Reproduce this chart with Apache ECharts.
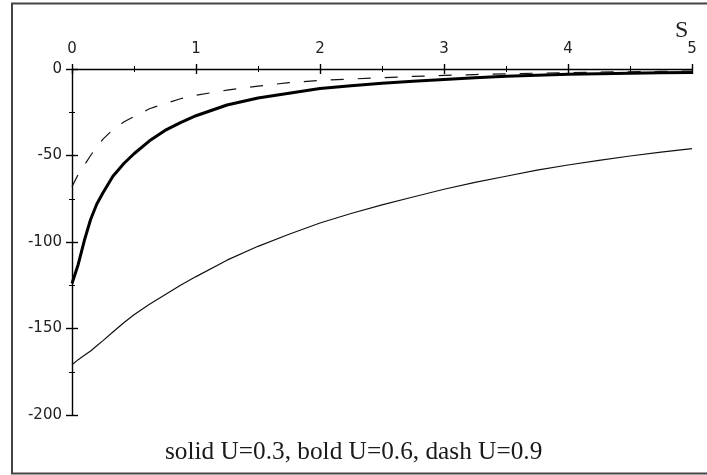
<!DOCTYPE html>
<html><head><meta charset="utf-8">
<script src="https://cdn.jsdelivr.net/npm/echarts@6/dist/echarts.min.js"></script>
<style>html,body{margin:0;padding:0;background:#fff}#c{width:707px;height:475px}</style>
</head><body><div id="c"></div>
<script>
const sValues  = [0, 0.05, 0.1, 0.15, 0.2, 0.25, 0.33, 0.42, 0.5, 0.625, 0.75, 0.875, 1, 1.25, 1.5, 1.75, 2, 2.25, 2.5, 2.75, 3, 3.25, 3.5, 3.75, 4, 4.25, 4.5, 4.75, 5];
const solidU03 = [-171, -168, -165.5, -163, -160, -157, -152, -146.5, -142, -136, -130.5, -125, -120, -110.5, -102.5, -95.5, -89, -83.5, -78.5, -74, -69.5, -65.5, -62, -58.5, -55.5, -52.8, -50.3, -48, -46];
const boldU06  = [-124, -113, -99, -87, -78, -71.5, -62, -54.5, -49, -41.5, -35.5, -31, -27, -20.8, -16.8, -14, -11.3, -9.7, -8.3, -7.1, -6, -5, -4.2, -3.6, -3.1, -2.7, -2.4, -2.2, -2];
const dashU09  = [-68, -61, -55.5, -50, -45, -40.5, -35, -30.5, -27.5, -23, -20, -17.2, -15.2, -12.2, -9.9, -7.9, -6.6, -5.8, -5, -4.3, -3.7, -3.2, -2.8, -2.4, -2.1, -1.8, -1.6, -1.4, -1.2];
const xTickValues = [0, 1, 2, 3, 4, 5];
const yTickValues = [0, -50, -100, -150, -200];
const axisName = 'S';
const caption = 'solid U=0.3, bold U=0.6, dash U=0.9';

const pairs = arr => sValues.map((s, i) => [s, arr[i]]);
const labelFont = {fontFamily: 'DejaVu Sans', fontSize: 15, color: '#222'};
const xMin = xTickValues[0], xMax = xTickValues[xTickValues.length - 1];
const yMin = Math.min(...yTickValues), yMax = Math.max(...yTickValues);
const xInt = xTickValues[1] - xTickValues[0];
const yInt = Math.abs(yTickValues[1] - yTickValues[0]);

function xAx(inside) {
  return {
    type: 'value', position: 'top', min: xMin, max: xMax, interval: xInt,
    axisLine: {show: !inside, onZero: false, lineStyle: {color: '#000', width: 1.4}},
    axisTick: {show: true, inside: inside, length: 5, lineStyle: {color: '#000', width: 1.4}},
    minorTick: {show: true, splitNumber: 2, length: 3, lineStyle: {color: '#000', width: 1}},
    axisLabel: inside ? {show: false} : Object.assign({show: true, margin: 12}, labelFont),
    splitLine: {show: false}, minorSplitLine: {show: false}
  };
}
function yAx(inside) {
  return {
    type: 'value', position: 'left', min: yMin, max: yMax, interval: yInt,
    axisLine: {show: !inside, onZero: false, lineStyle: {color: '#000', width: 1.4}},
    axisTick: {show: true, inside: inside, length: 6, lineStyle: {color: '#000', width: 1.4}},
    minorTick: {show: true, splitNumber: 2, length: 3, lineStyle: {color: '#000', width: 1}},
    axisLabel: inside ? {show: false} : Object.assign({show: true, margin: 10}, labelFont),
    splitLine: {show: false}, minorSplitLine: {show: false}
  };
}
const common = {type: 'line', showSymbol: false, symbol: 'none', smooth: false, xAxisIndex: 0, yAxisIndex: 0, z: 3};
const chart = echarts.init(document.getElementById('c'), null, {renderer: 'canvas'});
chart.setOption({
  animation: false,
  backgroundColor: '#fff',
  grid: {left: 72, right: 15, top: 69, bottom: 60, containLabel: false},
  xAxis: [xAx(false), xAx(true)],
  yAxis: [yAx(false), yAx(true)],
  graphic: [
    {type: 'rect', shape: {x: 12, y: 3.5, width: 720, height: 470}, style: {fill: 'none', stroke: '#444', lineWidth: 2}, silent: true},
    {type: 'text', left: 675, top: 19, style: {text: axisName, fontFamily: 'Liberation Serif', fontSize: 24, fill: '#222'}},
    {type: 'text', left: 165, top: 440, style: {text: caption, fontFamily: 'Liberation Serif', fontSize: 25.3, fill: '#1a1a1a'}}
  ],
  series: [
    Object.assign({name: 'solid U=0.3', data: pairs(solidU03), lineStyle: {color: '#111', width: 1.2, type: 'solid'}}, common),
    Object.assign({name: 'bold U=0.6', data: pairs(boldU06), lineStyle: {color: '#000', width: 3, type: 'solid'}}, common),
    Object.assign({name: 'dash U=0.9', data: pairs(dashU09), lineStyle: {color: '#111', width: 1.2, type: [13, 14]}}, common)
  ]
});
</script></body></html>
